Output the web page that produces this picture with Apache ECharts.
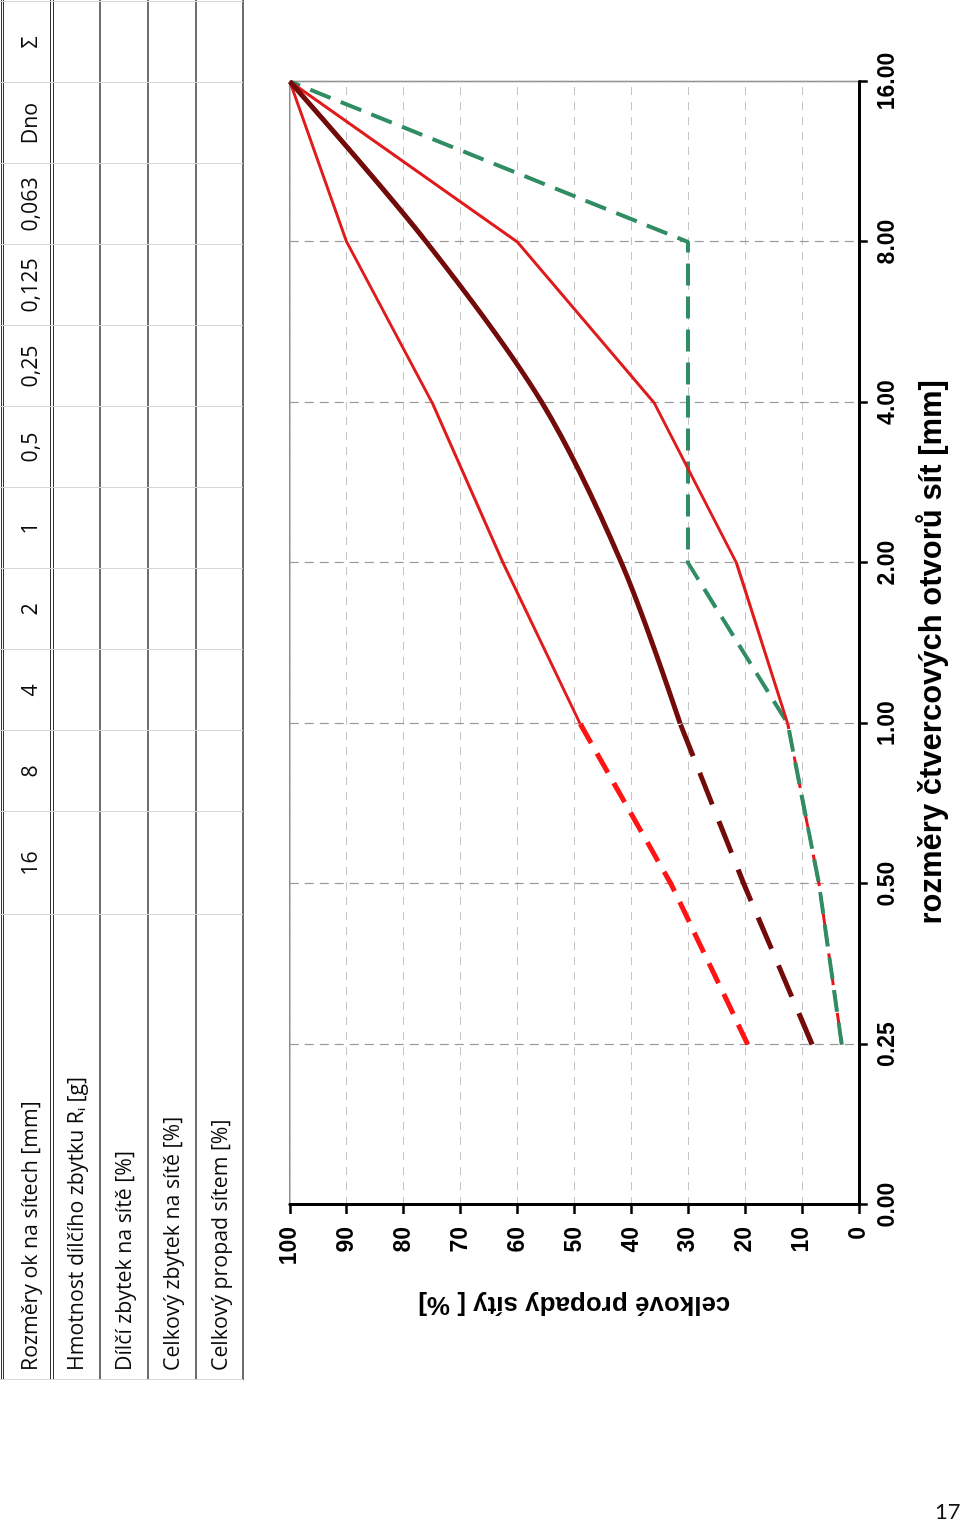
<!DOCTYPE html>
<html><head><meta charset="utf-8">
<script src="https://cdn.jsdelivr.net/npm/echarts@6/dist/echarts.min.js"></script>
<style>
html,body{margin:0;padding:0;background:#fff;}
body{width:960px;height:1525px;position:relative;overflow:hidden;}
#land{position:absolute;left:0;top:0;width:1525px;height:960px;transform-origin:0 0;transform:translate(0,1525px) rotate(-90deg);}
#chart{width:1525px;height:960px;}
#page{position:absolute;left:935px;top:1500px;font-family:Lato,'Open Sans',sans-serif;font-size:22px;line-height:1;color:#111;}
</style></head>
<body>
<div id="land"><div id="chart"></div></div>
<div id="page">17</div>
<script>
// ---- data ----
const sieveSizes = ['0.00', '0.25', '0.50', '1.00', '2.00', '4.00', '8.00', '16.00'];
const lowerLimit = [null, 3, 7, 12.5, 21.5, 36, 60, 100];
const upperLimit = [null, 19.5, 33, 49, 62.5, 75, 90, 100];
const gradingCurve = [null, 8.2, 20.2, 31.4, 41.7, 55.7, 76, 100];
const greenLimit = [null, 3, 7, 12.5, 30, 30, 30, 100];
const solidFrom = 3; // curves are solid from 1.00 mm upward, dashed below

const tableHeader = 'Rozměry ok na sítech [mm]';
const tableSizes = ['16', '8', '4', '2', '1', '0,5', '0,25', '0,125', '0,063', 'Dno', 'Σ'];
const tableRows = ['Hmotnost dílčího zbytku Rᵢ [g]', 'Dílčí zbytek na sítě [%]', 'Celkový zbytek na sítě [%]', 'Celkový propad sítem [%]'];

// ---- layout (landscape frame) ----
const colEdges = [145, 610, 713, 794, 875, 956, 1037, 1118, 1199, 1280, 1361, 1442, 1523];
const doubleLines = [1.5, 3.5, 50.5, 53.5];
const rowLines = [100, 148, 196, 243];
const headerY = 31;
const rowTextY = [77, 125, 173, 221];
const tableFont = '"Open Sans", Lato, sans-serif';
const tableFontSize = 21.3;
const axisFont = '"Liberation Sans", Arial, sans-serif';

const solidPart = a => a.map((v, i) => i >= solidFrom ? v : null);
const dashedPart = a => a.map((v, i) => i <= solidFrom ? v : null);

const graphics = [];
doubleLines.forEach(v => graphics.push({type: 'line', shape: {x1: 145, y1: v, x2: 1525, y2: v}, style: {stroke: '#333', lineWidth: 1}}));
rowLines.forEach(v => graphics.push({type: 'line', shape: {x1: 145, y1: v, x2: 1525, y2: v}, style: {stroke: '#6e6e6e', lineWidth: 1.8}}));
colEdges.forEach(u => graphics.push({type: 'line', shape: {x1: u + 0.5, y1: 0, x2: u + 0.5, y2: 243}, style: {stroke: '#d6d6d6', lineWidth: 1}}));
const txt = (t, x, y, align) => ({type: 'text', x, y,
  style: {text: t, font: tableFontSize + 'px ' + tableFont, fill: '#0a0a0a', align, verticalAlign: 'middle', textAlign: align, textVerticalAlign: 'middle'}});
graphics.push(txt(tableHeader, 154, headerY, 'left'));
tableSizes.forEach((t, i) => graphics.push(txt(t, (colEdges[i + 1] + colEdges[i + 2]) / 2, headerY, 'center')));
tableRows.forEach((t, i) => graphics.push(txt(t, 154, rowTextY[i], 'left')));

function line(name, data, color, width, type, smooth) {
  return {name, type: 'line', data, showSymbol: false, symbol: 'none', smooth: smooth || false,
    connectNulls: false, lineStyle: {color, width, type, cap: 'butt'}, emphasis: {disabled: true}};
}

const chart = echarts.init(document.getElementById('chart'));
chart.setOption({
  animation: false,
  backgroundColor: '#fff',
  grid: {left: 320, right: 81.5, top: 289.8, bottom: 101.2, show: true, borderColor: '#8c8c8c', borderWidth: 1.5, containLabel: false, outerBoundsMode: 'none'},
  xAxis: {
    type: 'category', data: sieveSizes, boundaryGap: false,
    axisLine: {show: true, lineStyle: {color: '#000', width: 3}},
    axisTick: {show: true, length: 9, inside: false, lineStyle: {color: '#000', width: 2.5}},
    axisLabel: {fontFamily: axisFont, fontWeight: 'bold', fontSize: 23, color: '#000', margin: 17},
    splitLine: {show: true, lineStyle: {color: '#9a9a9a', type: [9, 6], width: 1.2}},
    name: 'rozměry čtvercových otvorů sít [mm]', nameLocation: 'middle', nameGap: 58,
    nameTextStyle: {fontFamily: axisFont, fontWeight: 'bold', fontSize: 31, color: '#000', padding: [0, 18, 0, 0]}
  },
  yAxis: {
    type: 'value', min: 0, max: 100, interval: 10,
    axisLine: {show: true, lineStyle: {color: '#000', width: 3}},
    axisTick: {show: true, length: 9, lineStyle: {color: '#000', width: 2.5}},
    axisLabel: {fontFamily: axisFont, fontWeight: 'bold', fontSize: 23, color: '#000', margin: 22},
    splitLine: {show: true, lineStyle: {color: '#c4c4c4', type: [8, 7], width: 1.2}},
    name: 'celkové propady síty [ %]', nameLocation: 'middle', nameGap: 86,
    nameTextStyle: {fontFamily: axisFont, fontWeight: 'bold', fontSize: 26, color: '#000'}
  },
  graphic: graphics,
  series: [
    line('dolní mez (čárkovaně)', dashedPart(lowerLimit), '#e8141b', 3, [12, 8]),
    line('zelená mez', greenLimit, '#2f8c63', 4, [22, 11]),
    line('dolní mez', solidPart(lowerLimit), '#e01b1b', 3, 'solid'),
    line('horní mez', solidPart(upperLimit), '#e01b1b', 3, 'solid'),
    line('horní mez (čárkovaně)', dashedPart(upperLimit), '#ff1414', 5, [22, 12]),
    line('čára zrnitosti', solidPart(gradingCurve), '#730b0b', 5, 'solid', 0.3),
    line('čára zrnitosti (čárkovaně)', dashedPart(gradingCurve), '#730b0b', 5, [34, 18])
  ]
});
</script>
</body></html>
